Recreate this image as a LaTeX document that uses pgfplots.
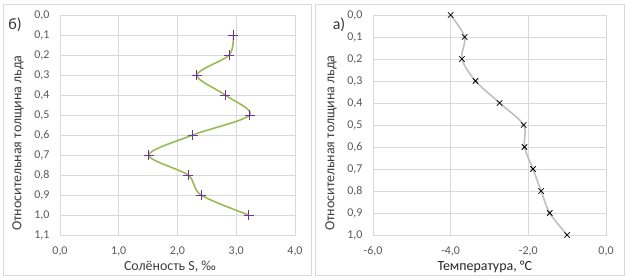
\documentclass[border=0pt]{standalone}
\usepackage{pgfplots}
\pgfplotsset{compat=1.18}
\usepackage{fontspec}
\setmainfont{Carlito}
\definecolor{gridc}{HTML}{D9D9D9}
\definecolor{txt}{HTML}{595959}
\definecolor{grn}{HTML}{9BBB59}
\definecolor{purp}{HTML}{7030A0}
\definecolor{lgray}{HTML}{BFBFBF}
\begin{document}
\begin{tikzpicture}
\path[use as bounding box] (0,0) rectangle (626bp,276bp);
\draw[gridc,line width=0.8bp] (3bp,1bp) rectangle (311bp,272bp);
\draw[gridc,line width=0.8bp] (315bp,1bp) rectangle (624bp,272bp);
\node[font=\fontsize{16}{18}\selectfont, text=txt!60!black] at (15bp,251bp) {б)};
\node[font=\fontsize{16}{18}\selectfont, text=txt!60!black] at (339bp,251bp) {а)};
\pgfplotsset{
  every axis/.append style={
    scale only axis, anchor=south west, y dir=reverse,
    grid=major, major grid style={gridc,line width=0.8bp},
    axis line style={gridc,line width=0.8bp},
    major tick length=0pt,
    tick label style={font=\fontsize{12}{14}\selectfont, text=txt},
    label style={font=\fontsize{14}{16}\selectfont, text=txt!70!black},
    xticklabel style={yshift=-8bp}, yticklabel style={xshift=-7bp},
    /pgf/number format/.cd, use comma, fixed, fixed zerofill, precision=1, assume math mode=true,
  },
}
\begin{axis}[at={(60bp,41bp)}, width=235bp, height=220bp,
  xmin=0, xmax=4, ymin=0, ymax=1.1,
  xtick={0,1,2,3,4}, ytick={0,0.1,...,1.1},
  ylabel={Относительная толщина льда}, xlabel={Солёность S, ‰},
  ylabel style={at={(axis description cs:-0.179,0.418)}, anchor=center},
  xlabel style={at={(axis description cs:0.468,-0.145)}, anchor=center},
  clip=false]
\addplot[grn, line width=1.6bp, smooth, tension=0.5, mark=+, mark size=5bp,
  mark options={purp, line width=0.9bp, solid}] coordinates {
  (2.95,0.1) (2.88,0.2) (2.33,0.3) (2.81,0.4) (3.23,0.5) (2.26,0.6)
  (1.51,0.7) (2.18,0.8) (2.40,0.9) (3.21,1.0)};
\end{axis}
\begin{axis}[at={(373bp,41bp)}, width=233bp, height=220bp,
  xmin=-6, xmax=0, ymin=0, ymax=1.0,
  xtick={-6,-4,-2,0}, ytick={0,0.1,...,1.0},
  ylabel={Относительная толщина льда}, xlabel={Температура, °C},
  ylabel style={at={(axis description cs:-0.18,0.418)}, anchor=center},
  xlabel style={at={(axis description cs:0.48,-0.145)}, anchor=center, text=black!85},
  clip=false]
\addplot[lgray, line width=1.6bp, smooth, tension=0.5, mark=x, mark size=3.8bp,
  mark options={black, line width=0.8bp, solid}] coordinates {
  (-4.00,0.0) (-3.64,0.1) (-3.71,0.2) (-3.36,0.3) (-2.74,0.4) (-2.12,0.5)
  (-2.10,0.6) (-1.88,0.7) (-1.67,0.8) (-1.45,0.9) (-1.00,1.0)};
\end{axis}
\end{tikzpicture}
\end{document}
